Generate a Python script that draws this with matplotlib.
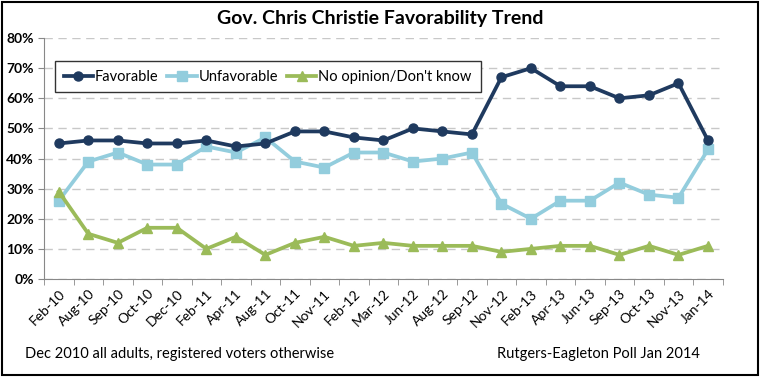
import numpy as np
import matplotlib.pyplot as plt
from matplotlib.ticker import PercentFormatter

months = ['Feb-10', 'Aug-10', 'Sep-10', 'Oct-10', 'Dec-10', 'Feb-11', 'Apr-11', 'Aug-11',
          'Oct-11', 'Nov-11', 'Feb-12', 'Mar-12', 'Jun-12', 'Aug-12', 'Sep-12', 'Nov-12',
          'Feb-13', 'Apr-13', 'Jun-13', 'Sep-13', 'Oct-13', 'Nov-13', 'Jan-14']
favorable = [45, 46, 46, 45, 45, 46, 44, 45, 49, 49, 47, 46, 50, 49, 48, 67, 70, 64, 64, 60, 61, 65, 46]
unfavorable = [26, 39, 42, 38, 38, 44, 42, 47, 39, 37, 42, 42, 39, 40, 42, 25, 20, 26, 26, 32, 28, 27, 43]
no_opinion = [29, 15, 12, 17, 17, 10, 14, 8, 12, 14, 11, 12, 11, 11, 11, 9, 10, 11, 11, 8, 11, 8, 11]

plt.rcParams['font.family'] = ['Lato', 'DejaVu Sans']

fig = plt.figure(figsize=(7.6, 3.77), dpi=100)
ax = fig.add_axes([0.058, 0.26, 0.893, 0.639])

x = np.arange(len(months))
ax.plot(x, favorable, color='#1f3a5f', lw=2.7, marker='o', ms=6.5, label='Favorable', zorder=4)
ax.plot(x, unfavorable, color='#93cddd', lw=2.7, marker='s', ms=6.5, label='Unfavorable', zorder=3)
ax.plot(x, no_opinion, color='#9bbb59', lw=2.7, marker='^', ms=7, label="No opinion/Don't know", zorder=3)

ax.set_xlim(-0.5, len(months) - 0.5)
ax.set_ylim(0, 80)
ax.set_yticks(range(0, 81, 10))
ax.yaxis.set_major_formatter(PercentFormatter(decimals=0))
ax.set_xticks(x)
ax.set_xticklabels(months, rotation=45, ha='right', rotation_mode='anchor', fontsize=10)
ax.set_xticks(np.arange(-0.5, len(months)), minor=True)
ax.tick_params(axis='x', which='major', length=0, pad=6)
ax.tick_params(axis='x', which='minor', length=4, color='#888888')
ax.tick_params(axis='y', length=4, color='#888888', labelsize=10)
for lab in ax.get_yticklabels():
    lab.set_fontweight('bold')

ax.grid(axis='y', ls=(0, (6, 4)), color='#c8c8c8', lw=1)
ax.set_axisbelow(True)
for s in ['top', 'right']:
    ax.spines[s].set_visible(False)
for s in ['left', 'bottom']:
    ax.spines[s].set_color('#888888')

leg = ax.legend(loc='upper left', bbox_to_anchor=(0.016, 0.905), borderaxespad=0, ncol=3, frameon=True,
                fancybox=False, edgecolor='#333333', framealpha=1, fontsize=10.5, handlelength=2.0,
                handletextpad=0.15, columnspacing=0.6, borderpad=0.6)
leg.get_frame().set_linewidth(1)
leg.set_zorder(5)

fig.text(0.5, 0.952, 'Gov. Chris Christie Favorability Trend', ha='center', va='center',
         fontsize=14, fontweight='bold')
fig.text(0.033, 0.061, 'Dec 2010 all adults, registered voters otherwise', ha='left', va='center',
         fontsize=10.5)
fig.text(0.654, 0.061, 'Rutgers-Eagleton Poll Jan 2014', ha='left', va='center', fontsize=10.5)

border = plt.Rectangle((0.002, 0.004), 0.996, 0.992, transform=fig.transFigure, fill=False,
                       edgecolor='black', lw=1.5)
fig.patches.append(border)

fig.savefig('out.png', dpi=100)
